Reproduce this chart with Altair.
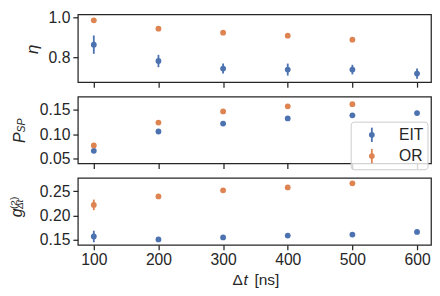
import altair as alt
import pandas as pd

# ---- data ----
dt = [100, 200, 300, 400, 500, 600]
series_names = ["EIT", "OR"]

eta_eit = [0.865, 0.783, 0.745, 0.740, 0.740, 0.720]
eta_eit_err = [0.046, 0.031, 0.025, 0.030, 0.024, 0.026]
eta_or = [0.987, 0.945, 0.925, 0.910, 0.890]
eta_or_err = [0.006, 0.005, 0.005, 0.005, 0.005]

psp_eit = [0.0657, 0.1056, 0.1220, 0.1326, 0.1390, 0.1436]
psp_eit_err = [0.003, 0.003, 0.003, 0.003, 0.003, 0.003]
psp_or = [0.0769, 0.1240, 0.1470, 0.1574, 0.1620]
psp_or_err = [0.004, 0.003, 0.003, 0.003, 0.003]

g2_eit = [0.156, 0.150, 0.154, 0.158, 0.160, 0.1656]
g2_eit_err = [0.012, 0.004, 0.004, 0.004, 0.004, 0.004]
g2_or = [0.2217, 0.2394, 0.252, 0.258, 0.2665]
g2_or_err = [0.011, 0.004, 0.004, 0.004, 0.004]

eta_ticks = [0.8, 1.0]
psp_ticks = [0.05, 0.10, 0.15]
g2_ticks = [0.15, 0.20, 0.25]

BLUE = "#4C72B0"
ORANGE = "#DD8452"
series_colors = [BLUE, ORANGE]
TXT = "#262626"
FONT = "Liberation Sans"
W = 354
H1, H2, H3 = 68, 67, 67
GAP = 14.5


def make_df(y_eit, e_eit, y_or, e_or):
    rows = []
    for xi, v, e in zip(dt, y_eit, e_eit):
        rows.append(dict(dt=xi, val=v, lo=v - e, hi=v + e, series="EIT"))
    for xi, v, e in zip(dt, y_or, e_or):
        rows.append(dict(dt=xi, val=v, lo=v - e, hi=v + e, series="OR"))
    return pd.DataFrame(rows)


one = pd.DataFrame({"k": [0]})
color_scale = alt.Scale(domain=series_names, range=series_colors)
xscale = alt.Scale(domain=[75.3, 621.6], nice=False, zero=False)


def txt(label, x, y, size, italic=True, angle=270, align="center", baseline="middle"):
    return alt.Chart(one).mark_text(
        text=label, font=FONT, fontSize=size, fontStyle="italic" if italic else "normal",
        color=TXT, angle=angle, align=align, baseline=baseline,
    ).encode(x=alt.value(x), y=alt.value(y))


def legend_layers(x0, y0, w, h, row0, row_step):
    out = [
        alt.Chart(one).mark_rect(
            fill="white", fillOpacity=0.8, stroke="#cccccc", strokeWidth=1, cornerRadius=3
        ).encode(x=alt.value(x0), x2=alt.value(x0 + w), y=alt.value(y0), y2=alt.value(y0 + h))
    ]
    for i, (name, col) in enumerate(zip(series_names, series_colors)):
        cy = y0 + row0 + i * row_step
        sx = x0 + 20.7
        out.append(
            alt.Chart(one).mark_rule(stroke=col, strokeWidth=1.8).encode(
                x=alt.value(sx), y=alt.value(cy - 7.2), y2=alt.value(cy + 7.2)
            )
        )
        out.append(
            alt.Chart(one).mark_point(filled=True, size=34, fill=col, opacity=1).encode(
                x=alt.value(sx), y=alt.value(cy)
            )
        )
        out.append(txt(name, x0 + 48, cy, 15.7, italic=False, angle=0, align="left"))
    return out


def panel(df, ydomain, yticks, yfmt, extra, show_xlabels, height):
    yscale = alt.Scale(domain=ydomain, nice=False, zero=False)
    xaxis = alt.Axis(values=dt, labels=show_xlabels, title=None, format="d")
    yaxis = alt.Axis(values=yticks, format=yfmt, title=None)
    base = alt.Chart(df)
    rules = base.mark_rule(strokeWidth=1.8).encode(
        x=alt.X("dt:Q", scale=xscale, axis=xaxis),
        y=alt.Y("lo:Q", scale=yscale, axis=yaxis),
        y2="hi:Q",
        stroke=alt.Stroke("series:N", scale=color_scale, legend=None),
    )
    pts = base.mark_point(filled=True, size=34, opacity=1).encode(
        x=alt.X("dt:Q", scale=xscale, axis=xaxis),
        y=alt.Y("val:Q", scale=yscale, axis=yaxis),
        fill=alt.Fill("series:N", scale=color_scale, legend=None),
    )
    layers = [rules, pts] + extra
    return alt.layer(*layers).properties(width=W, height=height)


p1 = panel(
    make_df(eta_eit, eta_eit_err, eta_or, eta_or_err), [0.677, 1.017], eta_ticks, ".1f",
    [txt("η", -45.3, 35, 17)], False, H1,
)
p2 = panel(
    make_df(psp_eit, psp_eit_err, psp_or, psp_or_err), [0.0397, 0.1775], psp_ticks, ".2f",
    [txt("P", -57.7, 41.1, 16), txt("SP", -55.8, 29, 10.5)]
    + legend_layers(274, 25.6, 77, 47.7, 12.7, 21.3),
    False, H2,
)
p3 = panel(
    make_df(g2_eit, g2_eit_err, g2_or, g2_or_err), [0.1388, 0.2778], g2_ticks, ".2f",
    [
        txt("g", -61, 35, 16),
        txt("(2)", -64, 25, 10, italic=False),
        txt("Δt", -58.3, 26.5, 10),
        txt("Δ", 155, 107.7, 15.5, italic=False, angle=0, align="left", baseline="alphabetic"),
        txt("t", 166, 107.7, 15.5, angle=0, align="left", baseline="alphabetic"),
        txt("[ns]", 177, 107.7, 15.5, italic=False, angle=0, align="left", baseline="alphabetic"),
    ],
    True, H3,
)

chart = (
    alt.vconcat(p1, p2, p3, spacing=GAP, bounds="flush")
    .configure_view(stroke=TXT, strokeWidth=1.25)
    .configure_axis(
        labelFont=FONT, labelFontSize=15.7, labelColor=TXT, tickColor=TXT,
        tickWidth=1.25, tickSize=5, labelPadding=3, domain=False, grid=False,
    )
    .properties(padding={"left": 0, "top": 0, "right": 0, "bottom": 0}, background="white")
)

chart.save("out.html", embed_options={"renderer": "svg", "actions": False})
